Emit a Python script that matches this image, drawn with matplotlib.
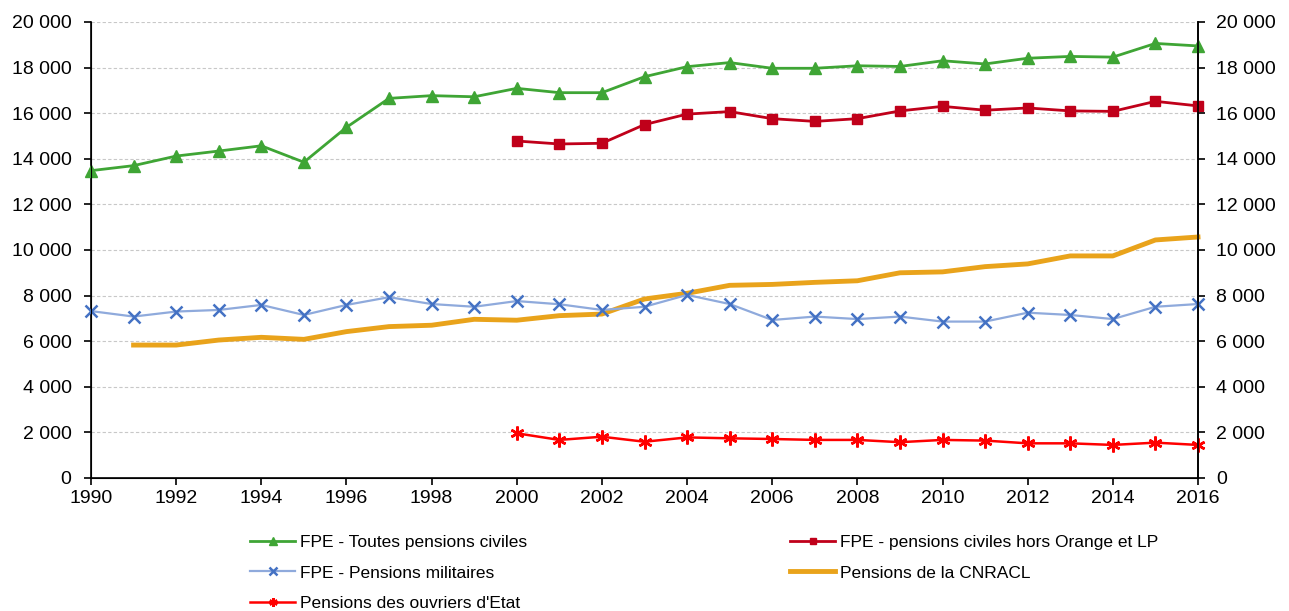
import matplotlib.pyplot as plt
from matplotlib.ticker import FuncFormatter, MultipleLocator
import numpy as np

plt.rcParams["font.family"] = ["Liberation Sans", "DejaVu Sans"]

years = np.arange(1990, 2017)
years_2000 = np.arange(2000, 2017)
years_1991 = np.arange(1991, 2017)

fpe_civiles = [13480, 13700, 14120, 14340, 14570, 13850, 15380, 16650, 16770,
               16720, 17090, 16900, 16900, 17600, 18040, 18220, 17970, 17970,
               18080, 18050, 18300, 18160, 18410, 18490, 18460, 19060, 18950]
fpe_hors_orange = [14780, 14650, 14680, 15500, 15960, 16070, 15760, 15640,
                   15760, 16100, 16300, 16130, 16230, 16100, 16080, 16520, 16320]
fpe_militaires = [7320, 7080, 7300, 7370, 7590, 7150, 7590, 7930, 7630,
                  7510, 7760, 7620, 7370, 7510, 8030, 7630, 6930, 7080,
                  6970, 7080, 6860, 6860, 7250, 7150, 6970, 7510, 7630]
cnracl = [5830, 5830, 6050, 6170, 6080, 6420, 6640, 6700, 6960, 6920, 7120,
          7190, 7850, 8100, 8450, 8490, 8580, 8650, 9000, 9040, 9270, 9390,
          9740, 9740, 10440, 10570]
ouvriers = [1960, 1670, 1810, 1590, 1780, 1740, 1710, 1670, 1670, 1570, 1670,
            1640, 1520, 1520, 1450, 1550, 1450]

labels = ["FPE - Toutes pensions civiles",
          "FPE - pensions civiles hors Orange et LP",
          "FPE - Pensions militaires",
          "Pensions de la CNRACL",
          "Pensions des ouvriers d'Etat"]


def fmt(v, pos):
    return f"{int(v):,}".replace(",", " ")


fig = plt.figure(figsize=(12.89, 6.11), dpi=100)
ax = fig.add_axes([0.0706, 0.2177, 0.8588, 0.7463])

l1, = ax.plot(years, fpe_civiles, "-^", color="#3FA535", lw=2, ms=9,
              label=labels[0], clip_on=False, zorder=5)
l2, = ax.plot(years_2000, fpe_hors_orange, "-s", color="#C0001A", lw=2, ms=7,
              label=labels[1], clip_on=False, zorder=5)
l3, = ax.plot(years, fpe_militaires, "-x", color="#8FAADC", lw=1.6, ms=9,
              mec="#4472C4", mew=1.8, label=labels[2], clip_on=False, zorder=4)
l4, = ax.plot(years_1991, cnracl, "-", color="#E9A31B", lw=3.5,
              label=labels[3], clip_on=False, zorder=3)
l5, = ax.plot(years_2000, ouvriers, "-", color="#FF0000", lw=1.8,
              marker=(6, 2, 0), ms=10, mew=1.8, label=labels[4],
              clip_on=False, zorder=5)

ax.set_xlim(1990, 2016)
ax.set_ylim(0, 20000)
ax.xaxis.set_major_locator(MultipleLocator(2))
ax.yaxis.set_major_locator(MultipleLocator(2000))
ax.yaxis.set_major_formatter(FuncFormatter(fmt))
ax.grid(axis="y", color="#C8C8C8", ls=(0, (3, 2)), lw=0.8)
ax.set_axisbelow(True)
ax.spines["top"].set_visible(False)
for s in ["left", "bottom", "right"]:
    ax.spines[s].set_linewidth(1.2)
ax.tick_params(axis="y", labelsize=14, length=5, width=1.2, direction="out",
               pad=9)
ax.tick_params(axis="x", labelsize=14, length=5, width=1.2, direction="out",
               pad=4)

ax2 = ax.twinx()
ax2.set_ylim(ax.get_ylim())
ax2.yaxis.set_major_locator(MultipleLocator(2000))
ax2.yaxis.set_major_formatter(FuncFormatter(fmt))
ax2.spines["top"].set_visible(False)
ax2.spines["right"].set_linewidth(1.2)
ax2.tick_params(axis="y", labelsize=14, length=5, width=1.2, direction="out",
                pad=8)

leg_kw = dict(frameon=False, fontsize=12.5, handlelength=2.6,
              handletextpad=0.25, labelspacing=0.9, loc="upper left",
              markerscale=0.6, borderaxespad=0, borderpad=0)
fig.legend(handles=[l1, l3, l5], bbox_to_anchor=(0.194, 0.125),
           bbox_transform=fig.transFigure, **leg_kw)
fig.legend(handles=[l2, l4], bbox_to_anchor=(0.613, 0.125),
           bbox_transform=fig.transFigure, **leg_kw)

fig.savefig("out.png", dpi=100)
